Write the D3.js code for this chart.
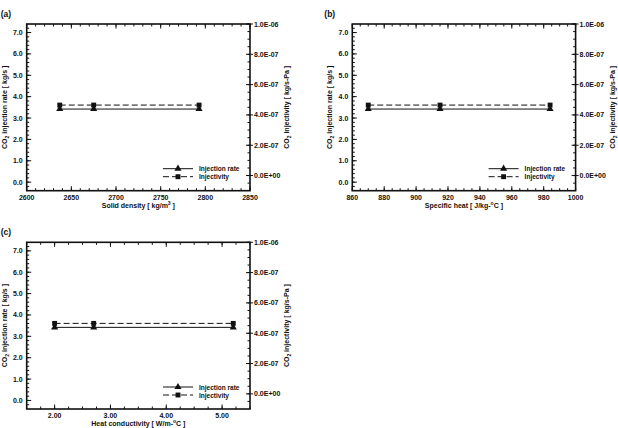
<!DOCTYPE html>
<html><head><meta charset="utf-8">
<script src="https://cdn.jsdelivr.net/npm/d3@7"></script>
<style>body{margin:0;background:#fff}svg{display:block}text{font-family:"Liberation Sans",Arial,sans-serif;font-weight:bold;fill:#111}</style>
</head><body><svg id="c" width="618" height="428"></svg>
<script>
// ---- data ----
const densityX = [2637, 2675, 2793];
const densityRate = [3.42, 3.42, 3.42];
const densityInj = [4.65e-7, 4.65e-7, 4.65e-7];
const heatX = [870, 915, 984];
const heatRate = [3.42, 3.42, 3.42];
const heatInj = [4.65e-7, 4.65e-7, 4.65e-7];
const condX = [2.0, 2.7, 5.2];
const condRate = [3.42, 3.42, 3.42];
const condInj = [4.65e-7, 4.65e-7, 4.65e-7];
const leftTicks = [0, 1, 2, 3, 4, 5, 6, 7];
const rightTicks = [0, 2e-7, 4e-7, 6e-7, 8e-7, 1e-6];
const densityTicks = [2600, 2650, 2700, 2750, 2800, 2850];
const heatTicks = [860, 880, 900, 920, 940, 960, 980, 1000];
const condTicks = [2, 3, 4, 5];
const legendLabels = ["Injection rate", "Injectivity"];

const svg = d3.select("#c");

function sci(v){
  if (v === 0) return "0.0E+00";
  const e = Math.floor(Math.log10(Math.abs(v)) + 1e-9);
  const m = v / Math.pow(10, e);
  const s = e < 0 ? "-" : "+";
  return m.toFixed(1) + "E" + s + String(Math.abs(e)).padStart(2, "0");
}

function panel(o){
  const g = svg.append("g").attr("transform", `translate(${o.left},${o.top})`);
  const W = 223.3, H = 166.7;
  const x = d3.scaleLinear().domain(o.xDomain).range([0, W]);
  const yL = d3.scaleLinear().domain([-0.4, 7.4]).range([H, 0]);
  const yR = d3.scaleLinear().domain([-1e-7, 1e-6]).range([H, 0]);

  // minor ticks
  const xMinor = d3.range(o.xDomain[0], o.xDomain[1] + 1e-9, o.xMinor);
  const yMinor = d3.range(-0.2, 7.4, 0.2);
  const rMinor = d3.range(-0.5e-7, 1.0001e-6, 0.5e-7);
  const tk = g.append("g").attr("stroke", "#111").attr("stroke-width", 1);
  xMinor.forEach(v => {
    tk.append("line").attr("x1", x(v)).attr("x2", x(v)).attr("y1", H).attr("y2", H - 2.5);
    tk.append("line").attr("x1", x(v)).attr("x2", x(v)).attr("y1", 0).attr("y2", 2.5);
  });
  o.xTicks.forEach(v => {
    tk.append("line").attr("x1", x(v)).attr("x2", x(v)).attr("y1", H).attr("y2", H - 4.5);
    tk.append("line").attr("x1", x(v)).attr("x2", x(v)).attr("y1", 0).attr("y2", 4.5);
  });
  yMinor.forEach(v => {
    tk.append("line").attr("x1", 0).attr("x2", 2.5).attr("y1", yL(v)).attr("y2", yL(v));
  });
  leftTicks.forEach(v => {
    tk.append("line").attr("x1", 0).attr("x2", 4.5).attr("y1", yL(v)).attr("y2", yL(v));
  });
  rMinor.forEach(v => {
    tk.append("line").attr("x1", W).attr("x2", W - 2.5).attr("y1", yR(v)).attr("y2", yR(v));
  });
  rightTicks.forEach(v => {
    tk.append("line").attr("x1", W - 4).attr("x2", W + 3).attr("y1", yR(v)).attr("y2", yR(v));
  });

  // frame
  g.append("rect").attr("width", W).attr("height", H).attr("fill", "none")
    .attr("stroke", "#111").attr("stroke-width", 1.6);

  // tick labels
  g.append("g").selectAll("text").data(leftTicks).join("text")
    .attr("x", -4).attr("y", d => yL(d) + 2.5).attr("text-anchor", "end")
    .attr("font-size", 7).text(d => d.toFixed(1));
  g.append("g").selectAll("text").data(rightTicks).join("text")
    .attr("x", W + 4).attr("y", d => yR(d) + 2.5).attr("text-anchor", "start")
    .attr("font-size", 7).text(sci);
  g.append("g").selectAll("text").data(o.xTicks).join("text")
    .attr("x", d => x(d)).attr("y", H + 9).attr("text-anchor", "middle")
    .attr("font-size", 7).text(d => d.toFixed(o.xDec));

  // axis titles
  const lt = g.append("text").attr("font-size", 7).attr("text-anchor", "middle")
    .attr("transform", `translate(${-20},${H/2}) rotate(-90)`);
  lt.append("tspan").text("CO");
  lt.append("tspan").attr("font-size", 5).attr("dy", 2).text("2");
  lt.append("tspan").attr("dy", -2).text(" injection rate [ kg/s ]");
  const rt = g.append("text").attr("font-size", 7).attr("text-anchor", "middle")
    .attr("transform", `translate(${W + 39},${H/2}) rotate(-90)`);
  rt.append("tspan").text("CO");
  rt.append("tspan").attr("font-size", 5).attr("dy", 2).text("2");
  rt.append("tspan").attr("dy", -2).text(" injectivity [ kg/s-Pa ]");
  const xt = g.append("text").attr("font-size", 7).attr("text-anchor", "middle")
    .attr("x", W / 2).attr("y", H + 17);
  o.xTitle.forEach(p => {
    const t = xt.append("tspan").text(p[0]);
    if (p[1] === "sup") t.attr("font-size", 5).attr("dy", -3);
    if (p[1] === "back") t.attr("dy", 3);
  });

  // panel label
  g.append("text").attr("x", o.labX).attr("y", o.labY).attr("font-size", 8.5)
    .attr("font-weight", "normal").text(o.label);

  // data
  const pts = o.xs.map((v, i) => ({x: v, r: o.rate[i], j: o.inj[i]}));
  const lineR = d3.line().x(d => x(d.x)).y(d => yL(d.r));
  const lineJ = d3.line().x(d => x(d.x)).y(d => yR(d.j));
  g.append("path").attr("d", lineR(pts)).attr("fill", "none").attr("stroke", "#111").attr("stroke-width", 1);
  g.append("path").attr("d", lineJ(pts)).attr("fill", "none").attr("stroke", "#111")
    .attr("stroke-width", 1).attr("stroke-dasharray", "6,3");
  const tri = d3.symbol().type(d3.symbolTriangle).size(22);
  const sq = d3.symbol().type(d3.symbolSquare).size(24);
  g.append("g").selectAll("path").data(pts).join("path")
    .attr("transform", d => `translate(${x(d.x)},${yL(d.r)})`).attr("d", tri).attr("fill", "#111");
  g.append("g").selectAll("path").data(pts).join("path")
    .attr("transform", d => `translate(${x(d.x)},${yR(d.j)})`).attr("d", sq).attr("fill", "#111");

  // legend
  const lg = g.append("g").attr("transform", `translate(${W - 87},${H - 22})`);
  lg.append("line").attr("x1", 0).attr("x2", 30).attr("y1", 0).attr("y2", 0).attr("stroke", "#111");
  lg.append("path").attr("transform", "translate(15,0)").attr("d", tri).attr("fill", "#111");
  lg.append("line").attr("x1", 0).attr("x2", 30).attr("y1", 8).attr("y2", 8).attr("stroke", "#111").attr("stroke-dasharray", "6,3");
  lg.append("path").attr("transform", "translate(15,8)").attr("d", sq).attr("fill", "#111");
  lg.selectAll("text").data(legendLabels).join("text")
    .attr("x", 36).attr("y", (d, i) => i * 8 + 2.5).attr("font-size", 6.5)
    .attr("font-weight", "normal").text(d => d);
}

panel({left: 26.7, top: 24, xDomain: [2600, 2850], xTicks: densityTicks, xMinor: 10, xDec: 0,
  xs: densityX, rate: densityRate, inj: densityInj, label: "(a)", labX: -26, labY: -7,
  xTitle: [["Solid density [ kg/m"], ["3", "sup"], [" ]", "back"]]});
panel({left: 352.3, top: 24, xDomain: [860, 1000], xTicks: heatTicks, xMinor: 5, xDec: 0,
  xs: heatX, rate: heatRate, inj: heatInj, label: "(b)", labX: -28, labY: -7,
  xTitle: [["Specific heat [ J/kg-"], ["o", "sup"], ["C ]", "back"]]});
panel({left: 26.7, top: 242.3, xDomain: [1.5, 5.5], xTicks: condTicks, xMinor: 0.25, xDec: 2,
  xs: condX, rate: condRate, inj: condInj, label: "(c)", labX: -26, labY: -7,
  xTitle: [["Heat conductivity [ W/m-"], ["o", "sup"], ["C ]", "back"]]});
</script></body></html>
